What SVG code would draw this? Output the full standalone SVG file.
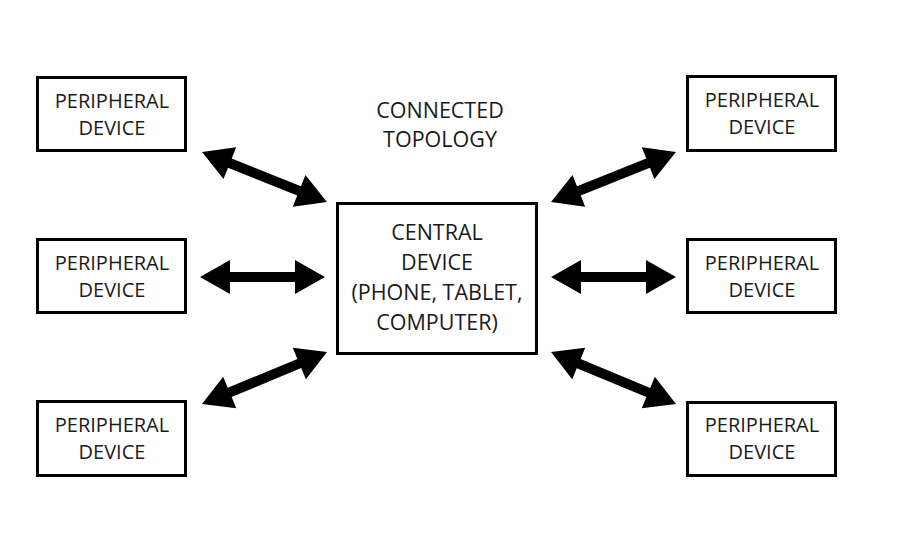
<svg xmlns="http://www.w3.org/2000/svg" width="902" height="546" viewBox="0 0 902 546">
<style>
  .box { fill: #ffffff; stroke: #000000; stroke-width: 3; }
  .lbl { font-family: "Open Sans", "Noto Sans", "Liberation Sans", sans-serif; font-size: 20px; fill: #1a1a1a; text-anchor: middle; }
  .big { font-size: 21.5px; }
  .arrow { fill: #000000; stroke: none; }
</style>
<rect width="902" height="546" fill="#ffffff"/>
<g id="title">
  <text class="lbl big" x="440" y="118">CONNECTED</text>
  <text class="lbl big" x="440" y="147">TOPOLOGY</text>
</g>
<g id="central">
  <rect class="box" x="337.5" y="203.5" width="199" height="150"/>
  <text class="lbl big" x="437" y="240">CENTRAL</text>
  <text class="lbl big" x="437" y="270">DEVICE</text>
  <text class="lbl big" x="437" y="300">(PHONE, TABLET,</text>
  <text class="lbl big" x="437" y="330">COMPUTER)</text>
</g>
<g id="p-left-top">
  <rect class="box" x="37.5" y="77.5" width="148" height="73"/>
  <text class="lbl" x="112" y="107.5">PERIPHERAL</text>
  <text class="lbl" x="112" y="135">DEVICE</text>
</g>
<g id="p-left-mid">
  <rect class="box" x="37.5" y="239.5" width="148" height="73"/>
  <text class="lbl" x="112" y="269.5">PERIPHERAL</text>
  <text class="lbl" x="112" y="297">DEVICE</text>
</g>
<g id="p-left-bot">
  <rect class="box" x="37.5" y="401.5" width="148" height="74"/>
  <text class="lbl" x="112" y="431.5">PERIPHERAL</text>
  <text class="lbl" x="112" y="459">DEVICE</text>
</g>
<g id="p-right-top">
  <rect class="box" x="687.5" y="76.5" width="148" height="74"/>
  <text class="lbl" x="762" y="106.5">PERIPHERAL</text>
  <text class="lbl" x="762" y="134">DEVICE</text>
</g>
<g id="p-right-mid">
  <rect class="box" x="687.5" y="239.5" width="148" height="73"/>
  <text class="lbl" x="762" y="269.5">PERIPHERAL</text>
  <text class="lbl" x="762" y="297">DEVICE</text>
</g>
<g id="p-right-bot">
  <rect class="box" x="687.5" y="402.5" width="148" height="73"/>
  <text class="lbl" x="762" y="431.5">PERIPHERAL</text>
  <text class="lbl" x="762" y="459">DEVICE</text>
</g>
<g id="connectors">
  <polygon class="arrow" transform="translate(202,152) rotate(21.8)" points="0,0 30,-17 30,-5 104.6,-5 104.6,-17 134.6,0 104.6,17 104.6,5 30,5 30,17"/>
  <polygon class="arrow" transform="translate(200,277)" points="0,0 30,-17 30,-5 95,-5 95,-17 125,0 95,17 95,5 30,5 30,17"/>
  <polygon class="arrow" transform="translate(202,404) rotate(-22.6)" points="0,0 30,-17 30,-5 105.4,-5 105.4,-17 135.4,0 105.4,17 105.4,5 30,5 30,17"/>
  <polygon class="arrow" transform="translate(551,202) rotate(-21.8)" points="0,0 30,-17 30,-5 104.6,-5 104.6,-17 134.6,0 104.6,17 104.6,5 30,5 30,17"/>
  <polygon class="arrow" transform="translate(551,277)" points="0,0 30,-17 30,-5 95,-5 95,-17 125,0 95,17 95,5 30,5 30,17"/>
  <polygon class="arrow" transform="translate(551,352) rotate(22.6)" points="0,0 30,-17 30,-5 105.4,-5 105.4,-17 135.4,0 105.4,17 105.4,5 30,5 30,17"/>
</g>
</svg>
